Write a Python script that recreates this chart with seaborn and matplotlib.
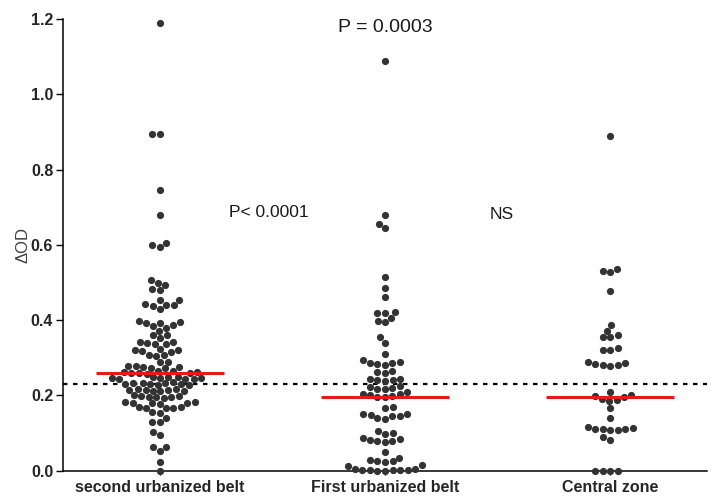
import numpy as np
import pandas as pd
import matplotlib
matplotlib.use("Agg")
import matplotlib.pyplot as plt
import seaborn as sns

# datos
categories = ["second urbanized belt", "First urbanized belt", "Central zone"]

second_belt = [
    1.19, 0.895, 0.895, 0.745, 0.68, 0.605, 0.60, 0.595,
    0.507, 0.50, 0.494, 0.482, 0.48, 0.455, 0.453, 0.44, 0.44, 0.438, 0.442, 0.43,
    0.397, 0.395, 0.393, 0.392, 0.386, 0.384, 0.38, 0.372, 0.36, 0.36, 0.353,
    0.343, 0.342, 0.34, 0.338, 0.336, 0.324, 0.322, 0.32, 0.318, 0.316,
    0.308, 0.307, 0.305, 0.29, 0.288,
    0.278, 0.277, 0.275, 0.274, 0.276, 0.273,
    0.265, 0.264, 0.262, 0.261, 0.26, 0.259, 0.263, 0.258,
    0.25, 0.249, 0.248, 0.247, 0.246, 0.245, 0.244, 0.246, 0.243,
    0.233, 0.232, 0.231, 0.23, 0.229, 0.228, 0.232, 0.23, 0.235,
    0.217, 0.216, 0.215, 0.214, 0.213, 0.212, 0.215, 0.211,
    0.2, 0.199, 0.198, 0.197, 0.196, 0.195, 0.194,
    0.183, 0.182, 0.181, 0.18, 0.179, 0.178,
    0.17, 0.169, 0.168, 0.167, 0.166,
    0.155, 0.154, 0.141, 0.13, 0.129, 0.103, 0.095, 0.063, 0.062, 0.052, 0.024, 0.0,
]

first_belt = [
    1.09, 0.68, 0.655, 0.645, 0.515, 0.485, 0.462, 0.422, 0.42, 0.418, 0.405, 0.398, 0.394,
    0.355, 0.34, 0.31,
    0.293, 0.29, 0.285, 0.283, 0.282, 0.286,
    0.265, 0.262, 0.26,
    0.245, 0.243, 0.241, 0.239, 0.24,
    0.225, 0.222, 0.22, 0.218, 0.217,
    0.208, 0.2, 0.198, 0.195, 0.197, 0.203, 0.205,
    0.17, 0.168,
    0.152, 0.15, 0.148, 0.146, 0.145, 0.14, 0.138,
    0.105, 0.1, 0.098,
    0.088, 0.083, 0.08, 0.078, 0.076, 0.085,
    0.05,
    0.035, 0.028, 0.026, 0.025, 0.024,
    0.015, 0.012, 0.005, 0.004, 0.003, 0.002, 0.002, 0.001, 0.001, 0.0, 0.0,
]

central_zone = [
    0.89, 0.535, 0.53, 0.528, 0.478, 0.388, 0.372, 0.36, 0.356, 0.355,
    0.325, 0.322, 0.32, 0.29, 0.287, 0.284, 0.282, 0.28, 0.278,
    0.21, 0.2, 0.198, 0.195, 0.19, 0.188, 0.185, 0.166, 0.14,
    0.115, 0.112, 0.11, 0.108, 0.107, 0.112, 0.114, 0.09, 0.082,
    0.0, 0.0, 0.0, 0.0,
]

medians = [0.26, 0.195, 0.195]
cutoff = 0.23

annotations = [
    (1.0, 1.177, "P = 0.0003", 14),
    (0.484, 0.685, "P< 0.0001", 12.5),
    (1.516, 0.682, "NS", 12.5),
]

# tabla larga
df = pd.DataFrame({
    "group": [categories[0]] * len(second_belt)
             + [categories[1]] * len(first_belt)
             + [categories[2]] * len(central_zone),
    "value": second_belt + first_belt + central_zone,
})

sns.set_style("ticks")
plt.rcParams["font.family"] = ["Liberation Sans", "DejaVu Sans"]

fig = plt.figure(figsize=(7.18, 5.04), dpi=100)
ax = fig.add_axes([0.0877, 0.066, 0.897, 0.896])

sns.swarmplot(data=df, x="group", y="value", order=categories,
              color="#333333", size=5.2, ax=ax, zorder=3)
for coll in ax.collections:
    coll.set_clip_on(False)

# medianas
for i, m in enumerate(medians):
    ax.hlines(m, i - 0.285, i + 0.285, color="#e8191c", linewidth=2.2, zorder=4)

# línea de corte
ax.axhline(cutoff, color="black", linestyle=(0, (2, 2.5)), linewidth=1.6, zorder=2)

for x, y, txt, fs in annotations:
    ax.text(x, y, txt, ha="center", va="center", fontsize=fs, color="#1a1a1a")

ax.set_xlim(-0.43, 2.43)
ax.set_ylim(0, 1.2)
ax.set_yticks(np.arange(0, 1.21, 0.2))
ax.set_yticklabels([f"{v:.1f}" for v in np.arange(0, 1.21, 0.2)],
                   fontsize=11.5, fontweight="bold")
ax.set_xticks(range(3))
ax.set_xticklabels(categories, fontsize=11.5, fontweight="bold")
ax.tick_params(axis="y", length=5, width=1, color="black", pad=2)
ax.tick_params(axis="x", length=3, width=1, color="black", pad=4)
ax.set_xlabel("")
ax.set_ylabel("ΔOD", fontsize=12, color="#404040", labelpad=0)

for s in ["left", "bottom"]:
    ax.spines[s].set_color("black")
    ax.spines[s].set_linewidth(1.1)
sns.despine(ax=ax)

fig.savefig("out.png", dpi=100)
